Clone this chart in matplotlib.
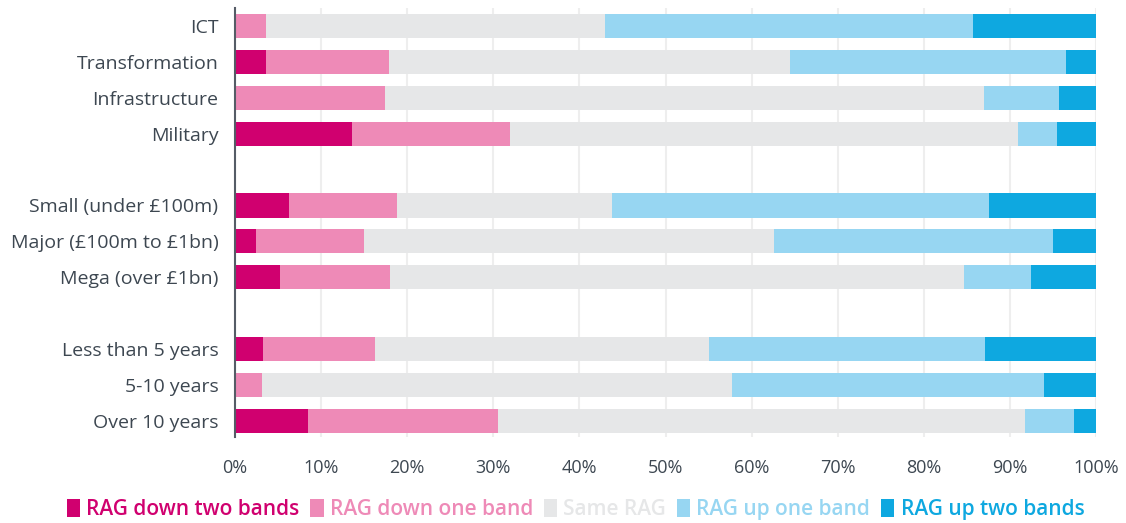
import matplotlib
matplotlib.use('Agg')
import matplotlib.pyplot as plt
from matplotlib.patches import Patch
import numpy as np

plt.rcParams['font.family'] = ['Open Sans', 'DejaVu Sans']

# Categories top to bottom (None = spacer row between groups)
categories = ['ICT', 'Transformation', 'Infrastructure', 'Military', None,
              'Small (under £100m)', 'Major (£100m to £1bn)', 'Mega (over £1bn)', None,
              'Less than 5 years', '5-10 years', 'Over 10 years']

# Shares (%) per RAG movement, same order as categories (spacers are 0)
down_two = [0.0, 3.6, 0.0, 13.6, 0, 6.3, 2.4, 5.2, 0, 3.3, 0.0, 8.5]
down_one = [3.6, 14.3, 17.4, 18.3, 0, 12.5, 12.6, 12.8, 0, 13.0, 3.1, 22.0]
same_rag = [39.4, 46.6, 69.6, 59.0, 0, 25.0, 47.6, 66.7, 0, 38.7, 54.6, 61.2]
up_one = [42.7, 32.0, 8.7, 4.6, 0, 43.8, 32.4, 7.8, 0, 32.1, 36.3, 5.7]
up_two = [14.3, 3.5, 4.3, 4.5, 0, 12.4, 5.0, 7.5, 0, 12.9, 6.0, 2.6]

series = [down_two, down_one, same_rag, up_one, up_two]
names = ['RAG down two bands', 'RAG down one band', 'Same RAG',
         'RAG up one band', 'RAG up two bands']
colors = ['#D0006F', '#EE8AB7', '#E6E7E8', '#97D6F2', '#0EA8E0']
text_col = '#3d4751'

fig = plt.figure(figsize=(11.26, 5.23), dpi=100)
ax = fig.add_axes([0.2087, 0.164, 0.7647, 0.821])

y = np.arange(len(categories))
left = np.zeros(len(categories))
for vals, c in zip(series, colors):
    vals = np.array(vals, dtype=float)
    ax.barh(y, vals, left=left, height=0.67, color=c, zorder=2)
    left += vals

ax.set_xlim(0, 100)
ax.set_ylim(11.45, -0.5)
ax.set_xticks(np.arange(0, 101, 10))
ax.set_xticklabels([f'{v}%' for v in range(0, 101, 10)])
ticks = [i for i, c in enumerate(categories) if c is not None]
ax.set_yticks(ticks)
ax.set_yticklabels([categories[i] for i in ticks])
ax.tick_params(axis='x', length=0, pad=16, labelsize=13, labelcolor=text_col)
ax.tick_params(axis='y', length=0, pad=12, labelsize=14, labelcolor=text_col)
ax.grid(axis='x', color='#eeeeee', linewidth=1.5, zorder=0)
ax.set_axisbelow(True)
for s in ['top', 'right', 'bottom']:
    ax.spines[s].set_visible(False)
ax.spines['left'].set_color('#555c66')
ax.spines['left'].set_linewidth(1.5)
ax.spines['left'].set_zorder(3)

handles = [Patch(facecolor=c, label=n) for c, n in zip(colors, names)]
fig.legend(handles=handles, loc='center', bbox_to_anchor=(0.511, 0.026), ncol=5,
           frameon=False, prop={'size': 15, 'weight': 'semibold'}, labelcolor=colors,
           handlelength=0.65, handleheight=1.0, handletextpad=0.3, columnspacing=0.5)

fig.savefig('out.png', dpi=100)
